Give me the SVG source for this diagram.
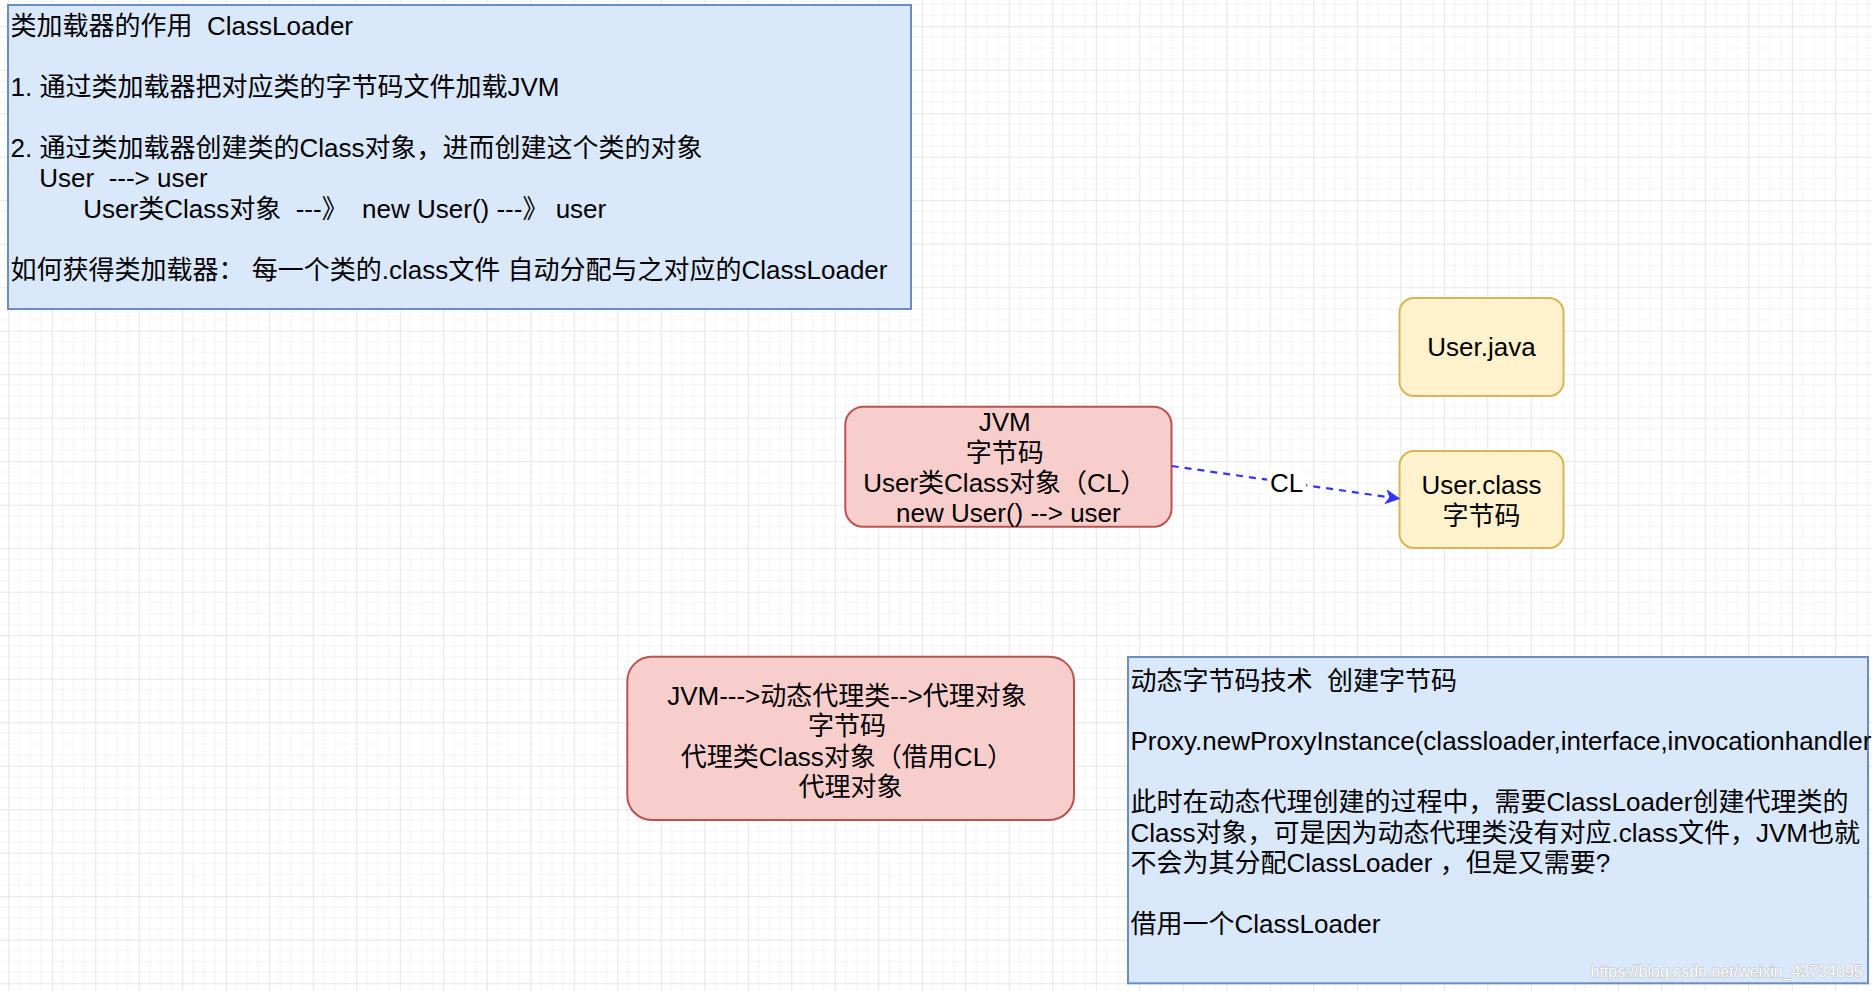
<svg xmlns="http://www.w3.org/2000/svg" width="1872" height="991" viewBox="0 0 1872 991">
<defs>
<pattern id="grid" width="43.5" height="43.5" patternUnits="userSpaceOnUse" x="8.3" y="26.2">
<path d="M10.875 0V43.5M21.75 0V43.5M32.625 0V43.5M0 10.875H43.5M0 21.75H43.5M0 32.625H43.5" stroke="#f3f3f3" stroke-width="1" fill="none"/>
<path d="M0.5 0V43.5M0 0.5H43.5" stroke="#e6e6e6" stroke-width="1" fill="none"/>
</pattern>
<marker id="arrow" markerUnits="userSpaceOnUse" markerWidth="16" markerHeight="16" viewBox="0 0 16 16" refX="14" refY="7" orient="auto">
<path d="M1 0.5 L14 7 L1 13.5 L4.5 7 Z" fill="#3333ff" stroke="#3333ff" stroke-width="1"/>
</marker>
</defs>
<style>
.t{font-family:"Liberation Sans",Arial,"Noto Sans CJK SC",sans-serif;font-size:26px;fill:#000;}
.c{text-anchor:middle;}
.blue{fill:#dae8fc;stroke:#6c8ebf;stroke-width:2;}
.red{fill:#f8cecc;stroke:#b85450;stroke-width:2;}
.yel{fill:#fff2cc;stroke:#d6b656;stroke-width:2;}
.wm{font-family:"Liberation Sans",Arial,sans-serif;font-size:16px;fill:#ffffff;stroke:#b8b8b8;stroke-width:1;paint-order:stroke;}
</style>
<rect width="1872" height="991" fill="#ffffff"/>
<rect width="1872" height="991" fill="url(#grid)"/>

<g id="classloader-note">
<rect class="blue" x="8" y="5" width="903" height="304"/>
<text class="t" xml:space="preserve">
<tspan x="10.6" y="35.3">类加载器的作用  ClassLoader</tspan>
<tspan x="10.6" y="96.1">1. 通过类加载器把对应类的字节码文件加载JVM</tspan>
<tspan x="10.6" y="156.9">2. 通过类加载器创建类的Class对象，进而创建这个类的对象</tspan>
<tspan x="39.3" y="187.3">User  ---&gt; user</tspan>
<tspan x="83.3" y="217.7">User类Class对象  ---》  new User() ---》 user</tspan>
<tspan x="10.6" y="278.5">如何获得类加载器： 每一个类的.class文件 自动分配与之对应的ClassLoader</tspan>
</text>
</g>

<g id="user-java">
<rect class="yel" x="1399.5" y="298" width="164" height="98" rx="14.5" ry="14.5"/>
<text class="t c" x="1481.5" y="356">User.java</text>
</g>

<g id="user-class">
<rect class="yel" x="1399.5" y="451" width="164" height="97" rx="14.5" ry="14.5"/>
<text class="t c"><tspan x="1481.5" y="493.5">User.class</tspan><tspan x="1481.5" y="524.5">字节码</tspan></text>
</g>

<g id="jvm">
<rect class="red" x="845.3" y="406.7" width="326.2" height="120" rx="18" ry="18"/>
<text class="t c">
<tspan x="1008.4" y="431.2">JVM</tspan>
<tspan x="1008.4" y="461.6">字节码</tspan>
<tspan x="1008.4" y="492">User类Class对象（CL）</tspan>
<tspan x="1008.4" y="522.4">new User() --&gt; user</tspan>
</text>
</g>

<g id="proxy">
<rect class="red" x="627.3" y="656.7" width="446.7" height="163.3" rx="24.5" ry="24.5"/>
<text class="t c">
<tspan x="850.6" y="704.5">JVM---&gt;动态代理类--&gt;代理对象</tspan>
<tspan x="850.6" y="735">字节码</tspan>
<tspan x="850.6" y="765.5">代理类Class对象（借用CL）</tspan>
<tspan x="850.6" y="796">代理对象</tspan>
</text>
</g>

<g id="dynamic-note">
<rect class="blue" x="1128" y="657" width="740" height="326.3"/>
<text class="t" xml:space="preserve">
<tspan x="1130.5" y="689.5">动态字节码技术  创建字节码</tspan>
<tspan x="1130.5" y="750.3">Proxy.newProxyInstance(classloader,interface,invocationhandler)</tspan>
<tspan x="1130.5" y="811.1">此时在动态代理创建的过程中，需要ClassLoader创建代理类的</tspan>
<tspan x="1130.5" y="841.5">Class对象，可是因为动态代理类没有对应.class文件，JVM也就</tspan>
<tspan x="1130.5" y="871.9">不会为其分配ClassLoader ，但是又需要?</tspan>
<tspan x="1130.5" y="932.7">借用一个ClassLoader</tspan>
</text>
</g>

<g id="connectors">
<path d="M1171.7 466 L1399.3 498.7" fill="none" stroke="#3333ff" stroke-width="2.2" stroke-dasharray="7 6" marker-end="url(#arrow)"/>
<rect x="1267" y="467" width="39" height="31" fill="#ffffff"/>
<text class="t c" x="1286.7" y="492">CL</text>
</g>

<text class="wm" x="1590.5" y="976.5">https://blog.csdn.net/weixin_43734095</text>
</svg>
